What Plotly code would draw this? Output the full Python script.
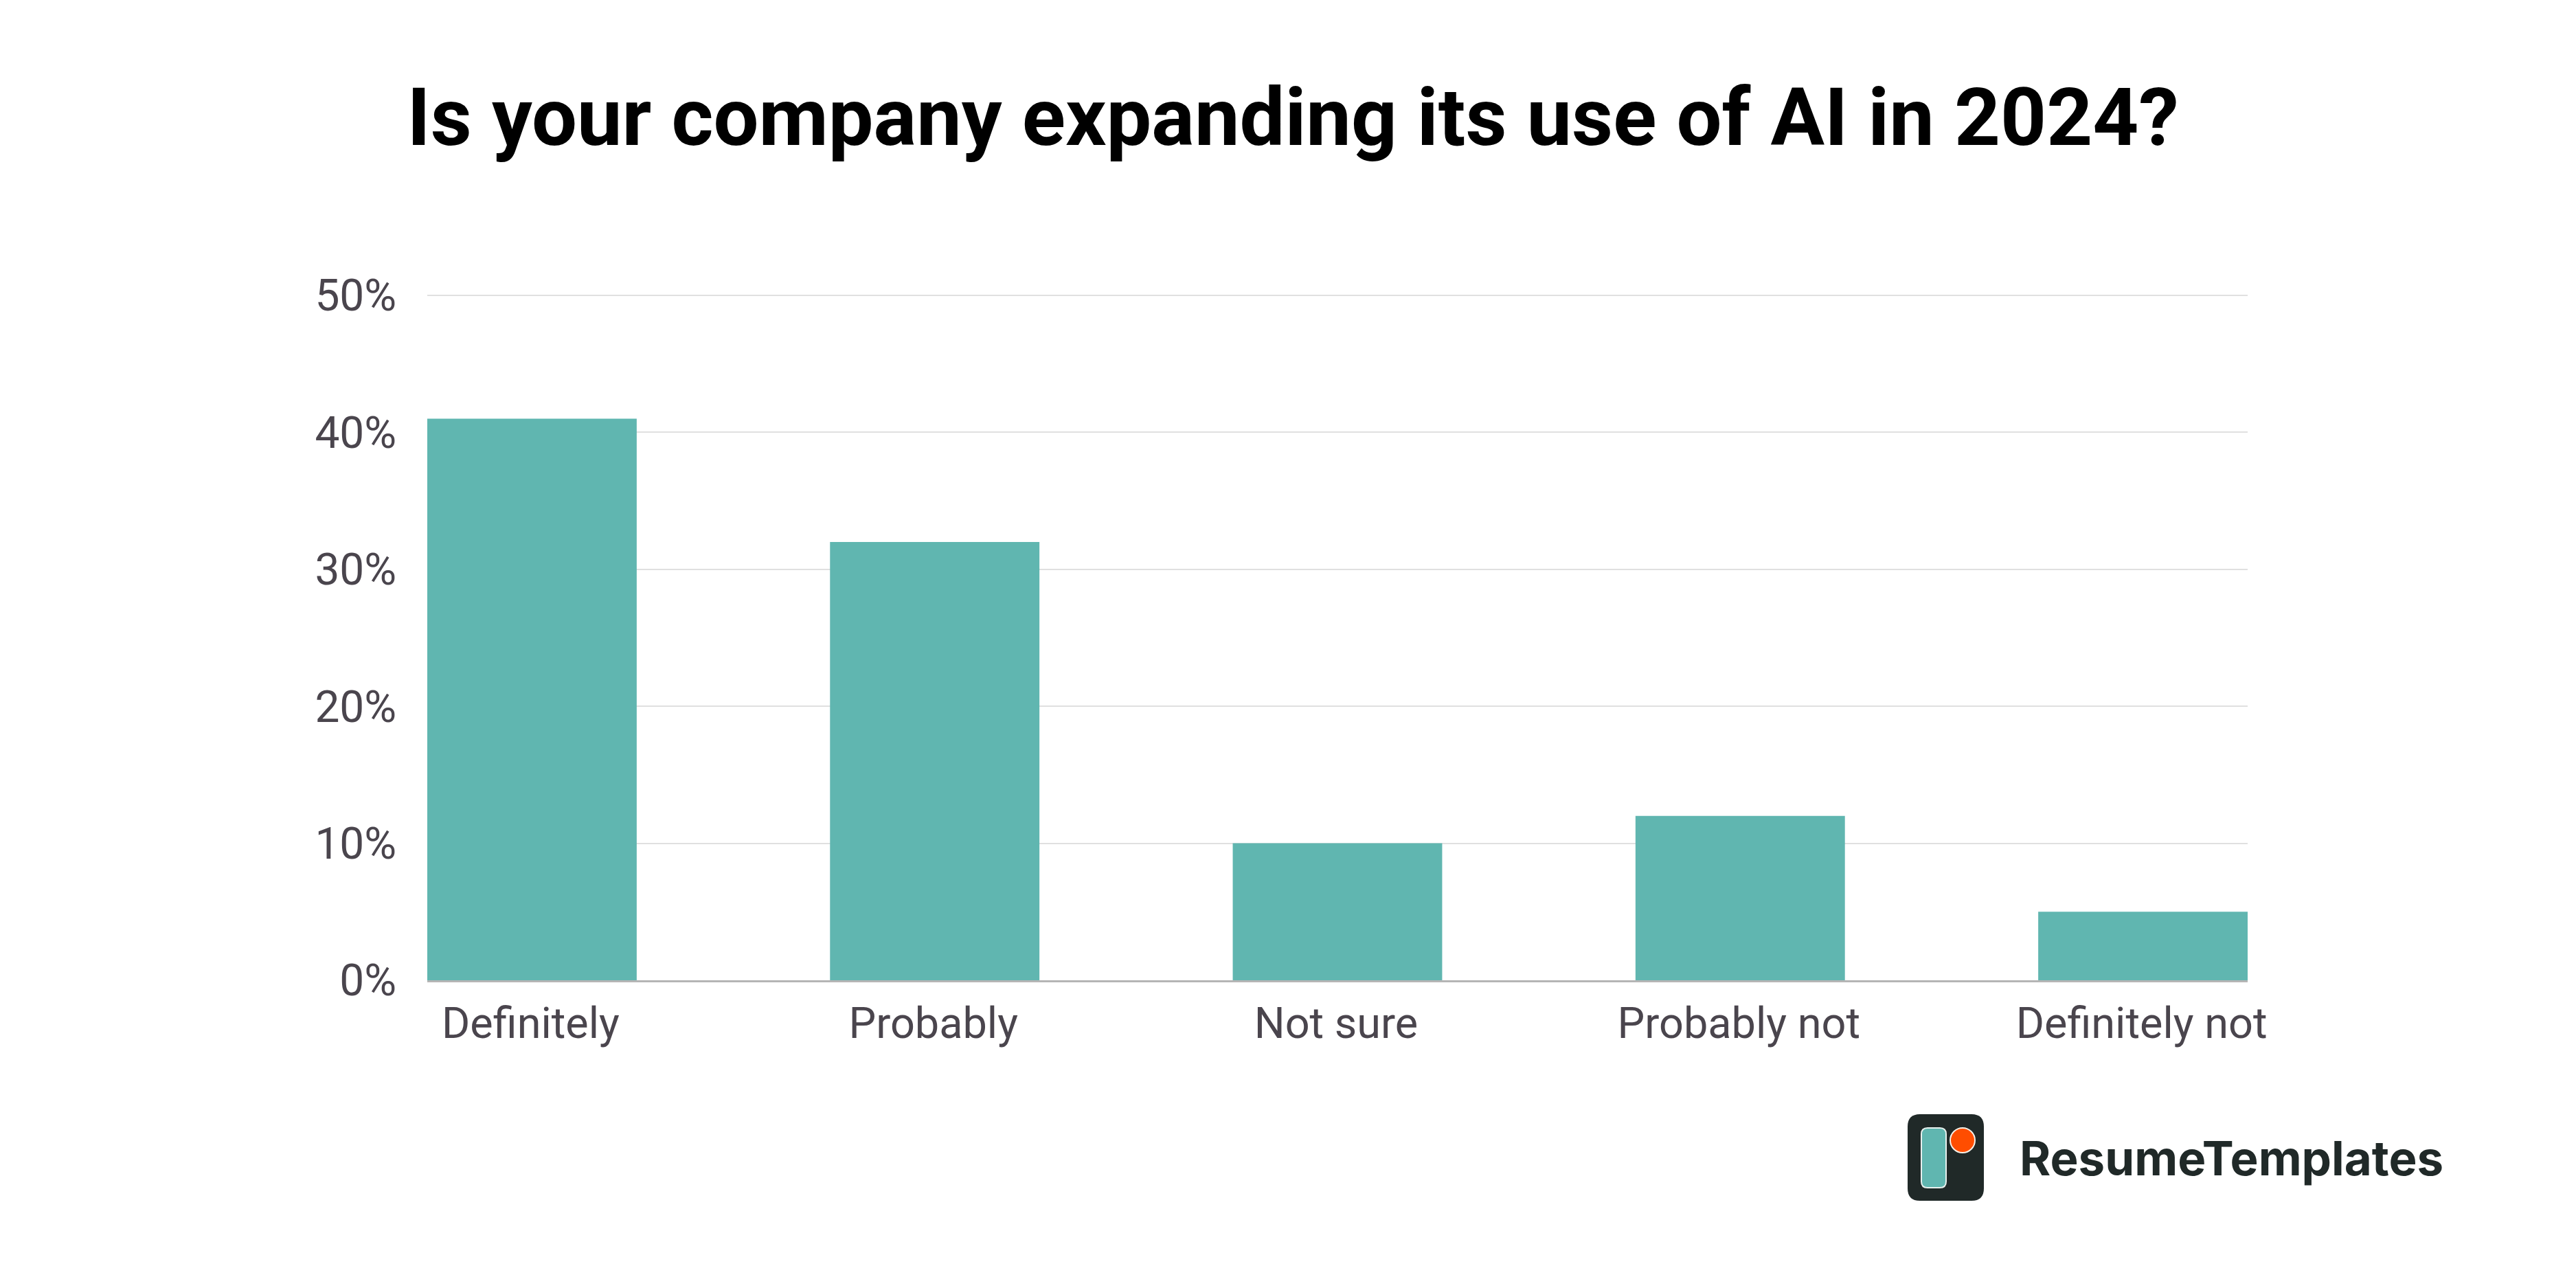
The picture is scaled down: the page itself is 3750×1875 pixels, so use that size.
import plotly.graph_objects as go

W = 3750
H = 1875

categories = ["Definitely", "Probably", "Not sure", "Probably not", "Definitely not"]
values = [41, 32, 10, 12, 5]
y_ticks = [0, 10, 20, 30, 40, 50]
y_labels = ["0%", "10%", "20%", "30%", "40%", "50%"]

TEAL = "#60B6B0"
TEXT = "#4A454D"
DARK = "#202928"


# logo is placed in page pixels, this turns them into paper coords
def px_x(x):
    return (x - 622) / (3272 - 622)


def px_y(y):
    return (1427 - y) / (1427 - 426)


def rounded(x0, y0, x1, y1, r):
    pts = [
        f"M {px_x(x0 + r)} {px_y(y0)}",
        f"L {px_x(x1 - r)} {px_y(y0)}",
        f"Q {px_x(x1)} {px_y(y0)} {px_x(x1)} {px_y(y0 + r)}",
        f"L {px_x(x1)} {px_y(y1 - r)}",
        f"Q {px_x(x1)} {px_y(y1)} {px_x(x1 - r)} {px_y(y1)}",
        f"L {px_x(x0 + r)} {px_y(y1)}",
        f"Q {px_x(x0)} {px_y(y1)} {px_x(x0)} {px_y(y1 - r)}",
        f"L {px_x(x0)} {px_y(y0 + r)}",
        f"Q {px_x(x0)} {px_y(y0)} {px_x(x0 + r)} {px_y(y0)}",
        "Z",
    ]
    return " ".join(pts)


fig = go.Figure()
fig.add_trace(go.Bar(x=categories, y=values, width=0.52, marker=dict(color=TEAL, line=dict(width=0))))

fig.update_layout(
    width=W,
    height=H,
    autosize=False,
    showlegend=False,
    paper_bgcolor="white",
    plot_bgcolor="white",
    margin=dict(l=622, r=478, t=426, b=448),
    title=dict(
        text="<b>Is your company expanding its use of AI in 2024?</b>",
        font=dict(family="Roboto", size=117, color="#000000"),
        x=0.5019,
        xanchor="center",
        y=1 - 170 / H,
        yanchor="middle",
    ),
    font=dict(family="Roboto", size=63, color=TEXT),
)
fig.update_xaxes(
    range=[-0.26, 4.26],
    showgrid=False,
    showline=True,
    linecolor="#B5B5B5",
    linewidth=3,
    ticks="outside",
    ticklen=5,
    tickcolor="rgba(0,0,0,0)",
    ticklabelshift=-2,
    tickfont=dict(family="Roboto", size=63, color=TEXT),
)
# slightly past 50 so plotly keeps the top gridline
fig.update_yaxes(
    range=[0, 50.2],
    tickvals=y_ticks,
    ticktext=y_labels,
    showgrid=True,
    gridcolor="#E0E0E0",
    gridwidth=2,
    zeroline=False,
    ticks="outside",
    ticklen=31,
    tickcolor="rgba(0,0,0,0)",
    tickfont=dict(family="Roboto", size=64, color=TEXT),
)

logo = [
    dict(path=rounded(2777, 1622, 2888, 1748, 18), fillcolor=DARK, line=dict(width=0)),
    dict(path=rounded(2797, 1642, 2833, 1729, 9), fillcolor=TEAL, line=dict(color="#E8F0EE", width=2)),
    dict(type="circle", x0=px_x(2839), x1=px_x(2875), y0=px_y(1642), y1=px_y(1678),
         fillcolor="#FF4D00", line=dict(color="#F5F0E8", width=2)),
]
for s in logo:
    fig.add_shape(xref="paper", yref="paper", layer="above", **s)

fig.add_annotation(
    text="ResumeTemplates",
    xref="paper", yref="paper",
    x=px_x(2938), y=px_y(1710),
    xanchor="left", yanchor="bottom",
    yshift=-20,
    showarrow=False,
    font=dict(family="Inter", size=69, color=DARK, weight=700),
)

fig.write_html(
    "out.html",
    config=dict(displayModeBar=False),
    post_script="document.body.style.margin='0';window.dispatchEvent(new Event('resize'));",
)
